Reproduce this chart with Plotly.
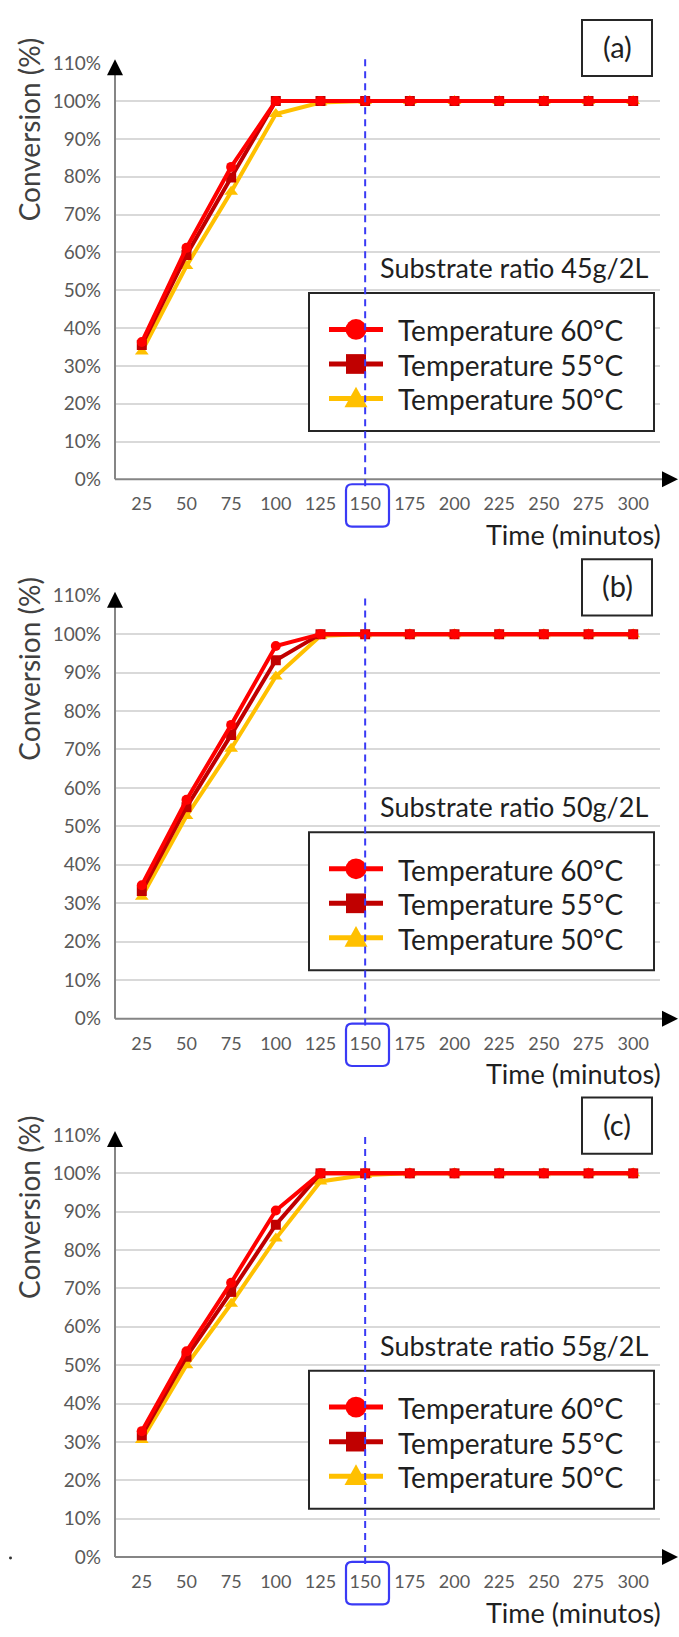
import plotly.graph_objects as go

W, H = 679, 1637

# ---------------- data ----------------
time_min = [25, 50, 75, 100, 125, 150, 175, 200, 225, 250, 275, 300]
y_ticks = [0, 10, 20, 30, 40, 50, 60, 70, 80, 90, 100, 110]
y_tick_labels = ["0%", "10%", "20%", "30%", "40%", "50%", "60%", "70%", "80%", "90%", "100%", "110%"]

series_names = ["Temperature 60°C", "Temperature 55°C", "Temperature 50°C"]
panel_labels = ["(a)", "(b)", "(c)"]
substrate_labels = ["Substrate ratio 45g/2L", "Substrate ratio 50g/2L", "Substrate ratio 55g/2L"]
highlight_time = 150

# panel (a) 45 g/2L
a_t60 = [36.3, 61.2, 82.6, 100, 100, 100, 100, 100, 100, 100, 100, 100]
a_t55 = [35.5, 59.3, 79.8, 100, 100, 100, 100, 100, 100, 100, 100, 100]
a_t50 = [33.8, 56.4, 76.0, 96.6, 99.6, 100, 100, 100, 100, 100, 100, 100]
# panel (b) 50 g/2L
b_t60 = [34.7, 56.9, 76.4, 96.9, 100, 100, 100, 100, 100, 100, 100, 100]
b_t55 = [33.2, 55.0, 73.8, 93.2, 100, 100, 100, 100, 100, 100, 100, 100]
b_t50 = [31.7, 52.7, 70.2, 89.0, 99.6, 100, 100, 100, 100, 100, 100, 100]
# panel (c) 55 g/2L
c_t60 = [32.8, 53.6, 71.5, 90.3, 100, 100, 100, 100, 100, 100, 100, 100]
c_t55 = [31.7, 52.2, 69.1, 86.6, 100, 100, 100, 100, 100, 100, 100, 100]
c_t50 = [30.5, 50.0, 66.0, 83.0, 97.9, 99.6, 100, 100, 100, 100, 100, 100]

panels = [
    [a_t60, a_t55, a_t50],
    [b_t60, b_t55, b_t50],
    [c_t60, c_t55, c_t50],
]

# ---------------- style ----------------
FONT = "Lato"
colors = ["#FF0000", "#C00000", "#FFC000"]
symbols = ["circle", "square", "triangle-up"]
msizes = [10, 10, 12]
AXIS_GRAY = "#595959"
AXIS_LINE = "#858585"
GRID = "#D9D9D9"
BLUE = "#3A3AF5"
TEXT = "#1F1F1F"

# pixel layout of each panel: y pixel of 0% and 110%
base0 = [474, 1021, 1567]
top110 = [52, 592, 1139]
X_LEFT, X_RIGHT = 115, 660
X_RANGE = [10, 315]
X_TIP = 678


def pxx(v):
    return v / W


def pxy(v):
    return 1 - v / H


fig = go.Figure()
shapes = []
annotations = []

for p in range(3):
    sfx = "" if p == 0 else str(p + 1)
    xa, ya = "x" + sfx, "y" + sfx
    Y0 = base0[p]
    # traces: draw 50, 55, then 60 on top
    for s in [2, 1, 0]:
        fig.add_trace(go.Scatter(
            x=time_min, y=panels[p][s], name=series_names[s],
            mode="lines+markers", xaxis=xa, yaxis=ya, showlegend=False,
            line=dict(color=colors[s], width=4),
            marker=dict(symbol=symbols[s], size=msizes[s], color=colors[s]),
        ))

    fig.update_layout(**{
        "xaxis" + sfx: dict(
            domain=[pxx(X_LEFT), pxx(X_RIGHT)], range=X_RANGE, anchor=ya,
            tickmode="array", tickvals=time_min, ticktext=[str(t) for t in time_min],
            showgrid=False, zeroline=False, showline=False, ticks="",
            ticklabelstandoff=12,
            tickfont=dict(family=FONT, size=18, color=AXIS_GRAY),
        ),
        "yaxis" + sfx: dict(
            domain=[pxy(Y0), pxy(top110[p])], range=[0, 110], anchor=xa,
            tickmode="array", tickvals=y_ticks, ticktext=y_tick_labels,
            showgrid=True, gridcolor=GRID, gridwidth=2, zeroline=False,
            showline=False, ticks="", ticklabelstandoff=13,
            tickfont=dict(family=FONT, size=19, color=AXIS_GRAY),
        ),
    })

    # axis lines (gray) with black arrowheads
    y_tip = top110[p] - 4
    shapes.append(dict(
        type="line", xref="paper", yref="paper",
        x0=pxx(X_LEFT), x1=pxx(X_LEFT), y0=pxy(Y0), y1=pxy(y_tip + 8),
        line=dict(color=AXIS_LINE, width=2), layer="above",
    ))
    shapes.append(dict(
        type="line", xref="paper", yref="paper",
        x0=pxx(X_LEFT), x1=pxx(X_TIP - 8), y0=pxy(Y0), y1=pxy(Y0),
        line=dict(color=AXIS_LINE, width=2), layer="above",
    ))
    annotations.append(dict(
        xref="paper", yref="paper", x=pxx(X_LEFT), y=pxy(y_tip), ax=0, ay=10,
        text="", showarrow=True, arrowhead=2, arrowsize=2, arrowwidth=1.6,
        arrowcolor="#000000", standoff=0, startstandoff=0,
    ))
    annotations.append(dict(
        xref="paper", yref="paper", x=pxx(X_TIP), y=pxy(Y0), ax=-10, ay=0,
        text="", showarrow=True, arrowhead=2, arrowsize=2, arrowwidth=1.6,
        arrowcolor="#000000", standoff=0, startstandoff=0,
    ))

    # y-axis title
    annotations.append(dict(
        xref="paper", yref="paper", x=pxx(29), y=pxy(Y0 - 354),
        text="Conversion (%)", showarrow=False, textangle=-90,
        font=dict(family=FONT, size=28, color="#404040"),
        xanchor="center", yanchor="middle",
    ))
    # x-axis title
    annotations.append(dict(
        xref="paper", yref="paper", x=pxx(663), y=pxy(Y0 + 56),
        text="Time (minutos)", showarrow=False,
        font=dict(family=FONT, size=27, color=TEXT),
        xanchor="right", yanchor="middle",
    ))
    # substrate text
    annotations.append(dict(
        xref="paper", yref="paper", x=pxx(650), y=pxy(Y0 - 215),
        text=substrate_labels[p], showarrow=False,
        font=dict(family=FONT, size=27, color=TEXT),
        xanchor="right", yanchor="middle",
    ))
    # panel label box
    shapes.append(dict(
        type="rect", xref="paper", yref="paper",
        x0=pxx(582), x1=pxx(652), y0=pxy(Y0 - 409), y1=pxy(Y0 - 466),
        line=dict(color="#262626", width=2), fillcolor="white", layer="above",
    ))
    annotations.append(dict(
        xref="paper", yref="paper", x=pxx(617), y=pxy(Y0 - 439),
        text=panel_labels[p], showarrow=False,
        font=dict(family=FONT, size=29, color=TEXT),
        xanchor="center", yanchor="middle",
    ))

    # legend box
    shapes.append(dict(
        type="rect", xref="paper", yref="paper",
        x0=pxx(309), x1=pxx(654), y0=pxy(Y0 - 49), y1=pxy(Y0 - 189),
        line=dict(color="#262626", width=2), fillcolor="white", layer="above",
    ))
    entry_y = [Y0 - 152, Y0 - 117, Y0 - 82]
    for s in range(3):
        ey = entry_y[s]
        shapes.append(dict(
            type="line", xref="paper", yref="paper",
            x0=pxx(329), x1=pxx(383), y0=pxy(ey), y1=pxy(ey),
            line=dict(color=colors[s], width=5), layer="above",
        ))
        cx = 356
        if symbols[s] == "circle":
            r = 10.5
            shapes.append(dict(
                type="circle", xref="paper", yref="paper",
                x0=pxx(cx - r), x1=pxx(cx + r), y0=pxy(ey - r), y1=pxy(ey + r),
                line=dict(color=colors[s], width=0), fillcolor=colors[s], layer="above",
            ))
        elif symbols[s] == "square":
            r = 10
            shapes.append(dict(
                type="rect", xref="paper", yref="paper",
                x0=pxx(cx - r), x1=pxx(cx + r), y0=pxy(ey - r), y1=pxy(ey + r),
                line=dict(color=colors[s], width=0), fillcolor=colors[s], layer="above",
            ))
        else:
            path = "M {} {} L {} {} L {} {} Z".format(
                pxx(cx), pxy(ey - 12), pxx(cx - 11.5), pxy(ey + 9), pxx(cx + 11.5), pxy(ey + 9))
            shapes.append(dict(
                type="path", xref="paper", yref="paper", path=path,
                line=dict(color=colors[s], width=0), fillcolor=colors[s], layer="above",
            ))
        annotations.append(dict(
            xref="paper", yref="paper", x=pxx(396), y=pxy(ey + 1),
            text=series_names[s], showarrow=False,
            font=dict(family=FONT, size=28, color=TEXT),
            xanchor="left", yanchor="middle",
        ))

    # highlight: rounded box around the 150 tick label
    x0, x1 = pxx(346), pxx(389)
    y0, y1 = pxy(Y0 + 5), pxy(Y0 + 48)
    rx, ry = 6 / W, 6 / H
    path = (
        f"M {x0 + rx} {y0} L {x1 - rx} {y0} Q {x1} {y0} {x1} {y0 - ry} "
        f"L {x1} {y1 + ry} Q {x1} {y1} {x1 - rx} {y1} "
        f"L {x0 + rx} {y1} Q {x0} {y1} {x0} {y1 + ry} "
        f"L {x0} {y0 - ry} Q {x0} {y0} {x0 + rx} {y0} Z"
    )
    shapes.append(dict(
        type="path", xref="paper", yref="paper", path=path,
        line=dict(color=BLUE, width=2.2), layer="above",
    ))
    # dashed vertical line at highlighted time
    shapes.append(dict(
        type="line", xref=xa, yref="paper",
        x0=highlight_time, x1=highlight_time, y0=pxy(Y0 + 7), y1=pxy(Y0 - 430),
        line=dict(color=BLUE, width=2, dash="7px,5px"), layer="above",
    ))

# small stray dot near bottom-left in the original
shapes.append(dict(
    type="circle", xref="paper", yref="paper",
    x0=pxx(9), x1=pxx(12), y0=pxy(1566.5), y1=pxy(1569.5),
    line=dict(width=0), fillcolor="#333333", layer="above",
))

fig.update_layout(
    width=W, height=H,
    margin=dict(l=0, r=0, t=0, b=0),
    paper_bgcolor="white", plot_bgcolor="white",
    showlegend=False,
    shapes=shapes, annotations=annotations,
    font=dict(family=FONT),
)

fig.write_html(
    "out.html",
    config={"displayModeBar": False},
    post_script="document.body.style.margin='0';",
)
